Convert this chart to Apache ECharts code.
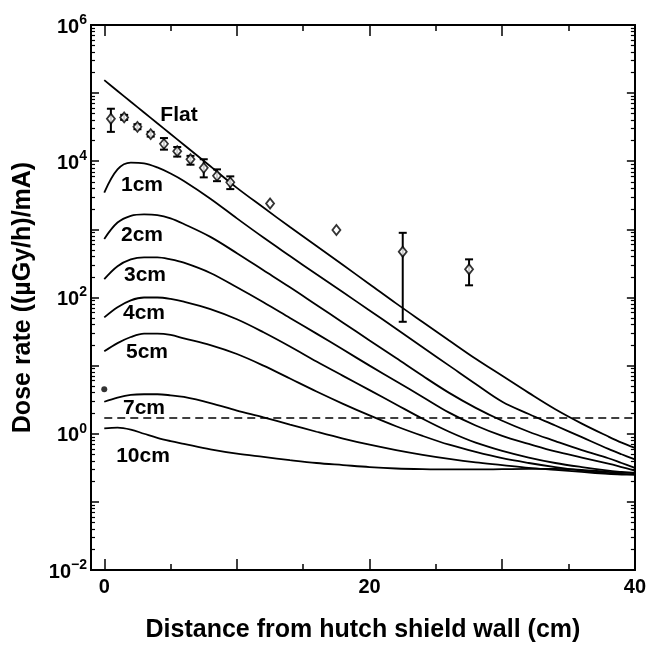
<!DOCTYPE html>
<html>
<head>
<meta charset="utf-8">
<script src="https://cdn.jsdelivr.net/npm/echarts@6/dist/echarts.min.js"></script>
<style>
    html, body { margin: 0; padding: 0; background: #fff; }
    #doseChart { width: 649px; height: 648px; }
</style>
</head>
<body>
<div id="doseChart"></div>
<script>
    // distance from the hutch shield wall (cm)
    var distance = [0, 1, 2, 3, 4, 5, 6, 8, 10, 12, 14, 16, 18, 20, 22, 24, 26, 28, 30, 32, 34, 36, 38, 39, 40];

    // calculated dose rate, one array per shield thickness
    var flat = [155000, 107700, 74800, 52000, 36100, 25100, 17500, 8430, 4070, 2090, 1080, 569, 299, 157, 82, 43.7, 23.4, 12.6, 7.08, 3.98, 2.29, 1.41, 0.91, 0.74, 0.62];
    var cm1 = [3470, 7590, 9550, 9330, 8130, 6610, 5130, 2820, 1450, 759, 407, 219, 119, 64.6, 34.7, 18.6, 10.0, 5.37, 2.95, 1.95, 1.32, 0.89, 0.60, 0.50, 0.42];
    var cm2 = [724, 1260, 1580, 1660, 1620, 1450, 1200, 776, 447, 251, 141, 77.6, 42.7, 23.4, 12.9, 7.08, 3.98, 2.40, 1.55, 1.07, 0.78, 0.575, 0.437, 0.372, 0.316];
    var cm3 = [186, 288, 363, 389, 389, 363, 324, 229, 141, 85, 50, 29.5, 17.2, 10.0, 5.9, 3.47, 2.04, 1.32, 0.93, 0.71, 0.55, 0.447, 0.363, 0.324, 0.288];
    var cm4 = [51, 72, 91, 100, 100, 95.5, 87, 67.6, 47.9, 30.9, 19.1, 11.5, 7.08, 4.37, 2.69, 1.66, 1.07, 0.74, 0.56, 0.447, 0.372, 0.324, 0.288, 0.275, 0.263];
    var cm5 = [16.2, 21.4, 26.3, 29.5, 29.5, 28.2, 25.1, 20.0, 14.8, 10.0, 6.46, 4.17, 2.75, 1.86, 1.29, 0.93, 0.69, 0.54, 0.437, 0.372, 0.324, 0.288, 0.263, 0.257, 0.251];
    var cm7 = [2.95, 3.39, 3.72, 3.80, 3.80, 3.67, 3.47, 2.82, 2.19, 1.74, 1.36, 1.07, 0.85, 0.69, 0.575, 0.49, 0.427, 0.38, 0.347, 0.316, 0.295, 0.275, 0.257, 0.251, 0.251];
    var cm10 = [1.20, 1.23, 1.15, 1.0, 0.87, 0.78, 0.71, 0.59, 0.51, 0.457, 0.41, 0.372, 0.347, 0.324, 0.309, 0.302, 0.299, 0.299, 0.302, 0.305, 0.305, 0.295, 0.275, 0.269, 0.269];

    // measured points with error bars (null = no bar)
    var measX = [0.5, 1.5, 2.5, 3.5, 4.5, 5.5, 6.5, 7.5, 8.5, 9.5, 12.5, 17.5, 22.5, 27.5];
    var measY = [42000, 44000, 32000, 25000, 18000, 14000, 10700, 8000, 6100, 4900, 2400, 980, 470, 260];
    var measLo = [27000, 40500, 29500, 23000, 14800, 11700, 8900, 5800, 5100, 3900, null, null, 44, 151];
    var measHi = [59000, 48000, 35000, 27000, 21900, 16200, 12000, 10700, 7600, 6000, null, null, 890, 363];

    // single point at the wall
    var wallX = [0];
    var wallY = [4.5];

    // dashed reference level
    var limitX = [0, 40];
    var limitLevel = 1.7;

    var curveNames = ['Flat', '1cm', '2cm', '3cm', '4cm', '5cm', '7cm', '10cm'];
    var curves = [flat, cm1, cm2, cm3, cm4, cm5, cm7, cm10];
    // label centres in pixels
    var labelPos = [[179, 115], [142, 185], [142, 235], [145, 275], [144, 313], [147, 352], [144, 408], [143, 456]];

    var font = "'Liberation Sans', Arial, sans-serif";

    // minor log ticks (2..9 of each decade), in exponent units
    var minorY = [];
    for (var e = -2; e < 6; e++) {
        for (var k = 2; k < 10; k++) minorY.push(e + Math.log10(k));
    }

    function pairs(xs, ys) {
        var out = [];
        for (var i = 0; i < xs.length; i++) out.push([xs[i], ys[i]]);
        return out;
    }

    var series = [];
    for (var i = 0; i < curves.length; i++) {
        series.push({
            name: curveNames[i],
            type: 'line',
            data: pairs(distance, curves[i]),
            smooth: 0.35,
            showSymbol: false,
            lineStyle: { color: '#000', width: 1.8 },
            z: 3
        });
    }
    series.push({
        type: 'line',
        data: pairs(limitX, [limitLevel, limitLevel]),
        showSymbol: false,
        lineStyle: { color: '#000', width: 1.6, type: [8, 5] },
        z: 3
    });
    var bars = [];
    for (var j = 0; j < measX.length; j++) {
        if (measLo[j] != null) bars.push([measX[j], measLo[j], measHi[j]]);
    }
    series.push({
        type: 'custom',
        data: bars,
        encode: { x: 0, y: [1, 2] },
        renderItem: function (params, api) {
            var top = api.coord([api.value(0), api.value(2)]);
            var bot = api.coord([api.value(0), api.value(1)]);
            var w = 4;
            var st = { stroke: '#000', lineWidth: 2 };
            return {
                type: 'group',
                children: [
                    { type: 'line', shape: { x1: top[0], y1: top[1], x2: bot[0], y2: bot[1] }, style: st },
                    { type: 'line', shape: { x1: top[0] - w, y1: top[1], x2: top[0] + w, y2: top[1] }, style: st },
                    { type: 'line', shape: { x1: bot[0] - w, y1: bot[1], x2: bot[0] + w, y2: bot[1] }, style: st }
                ]
            };
        },
        z: 4
    });
    series.push({
        type: 'scatter',
        data: pairs(measX, measY),
        symbol: 'diamond',
        symbolSize: [8, 10],
        itemStyle: { color: '#fff', borderColor: '#000', borderWidth: 1.8 },
        z: 5
    });
    series.push({
        type: 'scatter',
        data: pairs(wallX, wallY),
        symbol: 'circle',
        symbolSize: 6,
        itemStyle: { color: '#000' },
        z: 5
    });

    function xAxisDef(pos, ticks, len, labels) {
        return {
            type: 'value', min: -1, max: 40, position: pos,
            axisLine: { show: true, onZero: false, lineStyle: { color: '#000', width: 2 } },
            axisTick: { show: true, inside: true, length: len, customValues: ticks, lineStyle: { color: '#000', width: 1.5 } },
            axisLabel: labels ? { customValues: labels, margin: 7, color: '#000', fontSize: 20, fontWeight: 'bold', fontFamily: font } : { show: false },
            splitLine: { show: false }
        };
    }
    function yLogDef(pos, labels) {
        return {
            type: 'log', logBase: 10, min: 0.01, max: 1000000, splitNumber: 8, position: pos,
            axisLine: { show: true, onZero: false, lineStyle: { color: '#000', width: 2 } },
            axisTick: { show: true, inside: true, length: 8, lineStyle: { color: '#000', width: 1.5 } },
            axisLabel: labels ? {
                margin: 4,
                formatter: function (v) {
                    var p = Math.round(Math.log10(v));
                    if (p % 2 !== 0) return '';
                    return '{b|10}{s|' + (p < 0 ? '\u2212' : '') + Math.abs(p) + '}';
                },
                rich: {
                    b: { fontSize: 20, fontWeight: 'bold', fontFamily: font, color: '#000', lineHeight: 24, verticalAlign: 'bottom' },
                    s: { fontSize: 14, fontWeight: 'bold', fontFamily: font, color: '#000', lineHeight: 14, verticalAlign: 'top' }
                }
            } : { show: false },
            splitLine: { show: false }
        };
    }
    function yMinorDef(pos) {
        return {
            type: 'value', min: -2, max: 6, position: pos,
            axisLine: { show: false, onZero: false },
            axisTick: { show: true, inside: true, length: 4, customValues: minorY, lineStyle: { color: '#000', width: 1.2 } },
            axisLabel: { show: false },
            splitLine: { show: false }
        };
    }

    var xMain = xAxisDef('bottom', [0, 10, 20, 30, 40], 11, [0, 20, 40]);
    xMain.name = 'Distance from hutch shield wall (cm)';
    xMain.nameLocation = 'middle';
    xMain.nameGap = 48;
    xMain.nameTextStyle = { color: '#000', fontSize: 25, fontWeight: 'bold', fontFamily: font };

    var yMain = yLogDef('left', true);
    yMain.name = 'Dose rate ((\u00b5Gy/h)/mA)';
    yMain.nameLocation = 'middle';
    yMain.nameGap = 55;
    yMain.nameTextStyle = { color: '#000', fontSize: 25, fontWeight: 'bold', fontFamily: font };

    var option = {
        animation: false,
        backgroundColor: '#fff',
        grid: { left: 91, right: 13, top: 25, bottom: 76, containLabel: false },
        xAxis: [
            xMain,
            xAxisDef('bottom', [5, 15, 25, 35], 6, null),
            xAxisDef('top', [0, 10, 20, 30, 40], 11, null),
            xAxisDef('top', [5, 15, 25, 35], 6, null)
        ],
        yAxis: [
            yMain,
            yMinorDef('left'),
            yLogDef('right', false),
            yMinorDef('right')
        ],
        graphic: curveNames.map(function (n, i) {
            return {
                type: 'text', x: labelPos[i][0], y: labelPos[i][1], z: 10,
                style: { text: n, fill: '#000', font: 'bold 21px ' + font, textAlign: 'center', textVerticalAlign: 'middle' }
            };
        }),
        series: series
    };

    echarts.init(document.getElementById('doseChart')).setOption(option);
</script>
</body>
</html>
